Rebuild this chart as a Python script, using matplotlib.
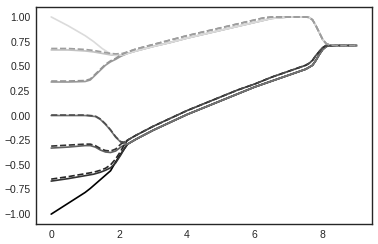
import matplotlib
matplotlib.use("Agg")
import matplotlib.pyplot as plt
import seaborn as sns

sns.set_style("white")
plt.rcParams['font.family'] = ['Liberation Sans', 'DejaVu Sans']

# shared tails once the trajectories have merged
upper_x = [2.25, 2.5, 3.0, 3.5, 4.0, 4.5, 5.0, 5.5, 6.0, 6.25, 6.5, 7.0, 7.5, 7.6, 7.7, 7.8, 7.9, 8.0, 8.1, 8.2, 8.4, 9.0]
upper_solid = [0.63, 0.655, 0.70, 0.74, 0.785, 0.825, 0.865, 0.905, 0.945, 0.965, 0.985, 1.0, 1.0, 0.995, 0.97, 0.91, 0.84, 0.77, 0.73, 0.715, 0.71, 0.71]
upper_dash = [0.645, 0.675, 0.72, 0.765, 0.81, 0.85, 0.89, 0.93, 0.97, 0.99, 1.0, 1.0, 1.0, 0.995, 0.97, 0.91, 0.84, 0.77, 0.73, 0.715, 0.71, 0.71]

lower_x = [2.25, 2.5, 3.0, 3.5, 4.0, 4.5, 5.0, 5.5, 6.0, 6.5, 7.0, 7.5, 7.6, 7.7, 7.8, 7.9, 8.0, 8.1, 8.2, 8.4, 9.0]
lower_solid = [-0.29, -0.24, -0.15, -0.07, 0.01, 0.08, 0.15, 0.22, 0.29, 0.35, 0.41, 0.47, 0.49, 0.51, 0.56, 0.62, 0.67, 0.70, 0.71, 0.71, 0.71]
lower_dash = [-0.25, -0.20, -0.11, -0.03, 0.05, 0.12, 0.19, 0.26, 0.32, 0.39, 0.45, 0.51, 0.53, 0.56, 0.61, 0.65, 0.69, 0.71, 0.71, 0.71, 0.71]

# starting segments, darkest first so the lighter lines sit on top
head_x = {
    '-1.0': [0, 0.5, 1.0, 1.15, 1.45, 1.75, 1.9, 2.05, 2.15],
    '-0.67': [0, 0.5, 1.0, 1.25, 1.45, 1.6, 1.75, 1.9, 2.05, 2.15],
    '-0.33': [0, 0.5, 1.0, 1.15, 1.3, 1.45, 1.6, 1.75, 1.9, 2.05, 2.15],
    '0.0':  [0, 0.5, 1.0, 1.3, 1.45, 1.6, 1.75, 1.9, 2.05, 2.15],
    '0.33': [0, 0.5, 1.0, 1.15, 1.3, 1.45, 1.6, 1.75, 1.9, 2.05],
    '0.67': [0, 0.5, 0.75, 1.0, 1.25, 1.5, 1.75, 1.9, 2.1],
    '1.0':  [0, 0.5, 1.0, 1.25, 1.5, 1.75, 1.9, 2.1],
}
head_solid = {
    '-1.0': [-1.0, -0.89, -0.78, -0.74, -0.65, -0.56, -0.47, -0.39, -0.34],
    '-0.67': [-0.665, -0.64, -0.61, -0.595, -0.575, -0.555, -0.53, -0.48, -0.40, -0.34],
    '-0.33': [-0.33, -0.32, -0.305, -0.305, -0.32, -0.35, -0.37, -0.375, -0.36, -0.32, -0.30],
    '0.0':  [0.0, 0.0, 0.0, -0.01, -0.04, -0.09, -0.15, -0.22, -0.27, -0.28],
    '0.33': [0.34, 0.34, 0.345, 0.36, 0.41, 0.46, 0.51, 0.545, 0.57, 0.60],
    '0.67': [0.665, 0.665, 0.66, 0.655, 0.645, 0.63, 0.615, 0.61, 0.615],
    '1.0':  [1.0, 0.91, 0.81, 0.75, 0.68, 0.625, 0.61, 0.615],
}
head_dash = {
    '-0.67': [-0.645, -0.62, -0.59, -0.575, -0.555, -0.535, -0.50, -0.44, -0.36, -0.30],
    '-0.33': [-0.31, -0.30, -0.29, -0.29, -0.305, -0.335, -0.355, -0.36, -0.34, -0.29, -0.27],
    '0.0':  [0.005, 0.005, 0.005, -0.005, -0.035, -0.085, -0.145, -0.215, -0.265, -0.27],
    '0.33': [0.35, 0.35, 0.355, 0.37, 0.42, 0.47, 0.52, 0.555, 0.58, 0.615],
    '0.67': [0.68, 0.68, 0.675, 0.67, 0.66, 0.645, 0.63, 0.625, 0.63],
}

solid_colors = {'1.0': '0.86', '0.67': '0.76', '0.33': '0.6', '0.0': '0.45',
                '-0.33': '0.38', '-0.67': '0.2', '-1.0': '0.0'}
dash_colors = {'0.67': '0.62', '0.33': '0.58', '0.0': '0.3', '-0.33': '0.2', '-0.67': '0.15'}
upper_keys = ['1.0', '0.67', '0.33']

fig, ax = plt.subplots(figsize=(3.78, 2.44), dpi=100)
fig.subplots_adjust(left=0.095, right=0.984, bottom=0.082, top=0.971)

lw = 1.2
for key in head_x:
    if key in upper_keys:
        tx, ts = upper_x, upper_solid
    else:
        tx, ts = lower_x, lower_solid
    ax.plot(head_x[key] + tx, head_solid[key] + ts, color=solid_colors[key], lw=lw)

for key in head_dash:
    if key in upper_keys:
        tx, td = upper_x, upper_dash
    else:
        tx, td = lower_x, lower_dash
    ax.plot(head_x[key] + tx, head_dash[key] + td, color=dash_colors[key], lw=lw, ls='--')

ax.set_xticks([0, 2, 4, 6, 8])
ax.set_yticks([-1.0, -0.75, -0.5, -0.25, 0.0, 0.25, 0.5, 0.75, 1.0])
ax.tick_params(labelsize=7.5, length=0, pad=4)
for s in ax.spines.values():
    s.set_color('0.15')
    s.set_linewidth(1.0)

fig.savefig('out.png', dpi=100)
